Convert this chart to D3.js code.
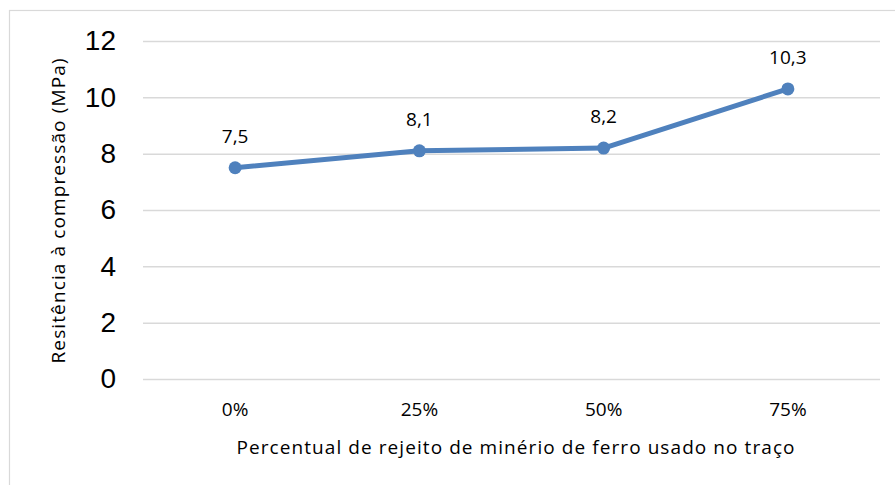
<!DOCTYPE html>
<html>
<head>
<meta charset="utf-8">
<script src="https://cdn.jsdelivr.net/npm/d3@7"></script>
<style>
  body { margin: 0; background: #fff; }
  svg { display: block; }
</style>
</head>
<body>
<div id="chart"></div>
<script>
var categories = ['0%', '25%', '50%', '75%'];
var resistencia = [7.5, 8.1, 8.2, 10.3];
var valueLabels = ['7,5', '8,1', '8,2', '10,3'];
var yTicks = [0, 2, 4, 6, 8, 10, 12];

var width = 895, height = 485;
var margin = {top: 41, right: 15, bottom: 106, left: 143};

var svg = d3.select('#chart').append('svg')
    .attr('width', width)
    .attr('height', height);

// chart frame (cut off on the right and bottom in the original)
svg.append('rect')
    .attr('x', 9.5).attr('y', 10.5)
    .attr('width', 900).attr('height', 500)
    .style('fill', 'none')
    .style('stroke', '#d9d9d9')
    .style('stroke-width', 1.2);

var x = d3.scaleBand()
    .domain(categories)
    .range([margin.left, width - margin.right]);

var y = d3.scaleLinear()
    .domain([0, 12])
    .range([height - margin.bottom, margin.top]);

// gridlines
svg.append('g')
    .attr('transform', 'translate(' + margin.left + ',0)')
    .call(d3.axisLeft(y).tickValues(yTicks).tickSize(-(width - margin.right - margin.left)).tickFormat(''))
    .call(function(g){ g.select('.domain').remove(); })
    .selectAll('line')
    .style('stroke', '#d9d9d9')
    .style('stroke-width', 1.5);

// y tick labels
svg.append('g')
    .attr('transform', 'translate(116,0)')
    .call(d3.axisLeft(y).tickValues(yTicks).tickSize(0).tickPadding(0))
    .call(function(g){ g.select('.domain').remove(); })
    .selectAll('text')
    .style('font-family', '"Liberation Sans", Arial, sans-serif')
    .style('font-size', '28px')
    .style('fill', '#000');

// x tick labels
svg.append('g')
    .attr('transform', 'translate(0,' + (height - margin.bottom) + ')')
    .call(d3.axisBottom(x).tickSize(0).tickPadding(24))
    .call(function(g){ g.select('.domain').remove(); })
    .selectAll('text')
    .style('font-family', '"Open Sans", sans-serif')
    .style('font-size', '19px')
    .style('fill', '#000');

// axis titles
svg.append('text')
    .attr('x', (margin.left + width - margin.right) / 2 + 4)
    .attr('y', 454)
    .attr('text-anchor', 'middle')
    .attr('textLength', 558)
    .style('font-family', '"Open Sans", sans-serif')
    .style('font-size', '19px')
    .text('Percentual de rejeito de minério de ferro usado no traço');

svg.append('text')
    .attr('transform', 'translate(65,211) rotate(-90)')
    .attr('text-anchor', 'middle')
    .attr('textLength', 305)
    .style('font-family', '"Open Sans", sans-serif')
    .style('font-size', '19px')
    .text('Resitência à compressão (MPa)');

// the series
var line = d3.line()
    .x(function(d, i){ return x(categories[i]) + x.bandwidth() / 2; })
    .y(function(d){ return y(d); });

svg.append('path')
    .datum(resistencia)
    .attr('d', line)
    .style('fill', 'none')
    .style('stroke', '#4f81bd')
    .style('stroke-width', 5)
    .style('stroke-linejoin', 'round');

svg.selectAll('circle.pt')
    .data(resistencia)
    .enter().append('circle')
    .attr('class', 'pt')
    .attr('cx', function(d, i){ return x(categories[i]) + x.bandwidth() / 2; })
    .attr('cy', function(d){ return y(d); })
    .attr('r', 6.5)
    .style('fill', '#4f81bd');

svg.selectAll('text.lbl')
    .data(resistencia)
    .enter().append('text')
    .attr('class', 'lbl')
    .attr('x', function(d, i){ return x(categories[i]) + x.bandwidth() / 2; })
    .attr('y', function(d){ return y(d) - 25; })
    .attr('text-anchor', 'middle')
    .style('font-family', '"Open Sans", sans-serif')
    .style('font-size', '19px')
    .text(function(d, i){ return valueLabels[i]; });
</script>
</body>
</html>
